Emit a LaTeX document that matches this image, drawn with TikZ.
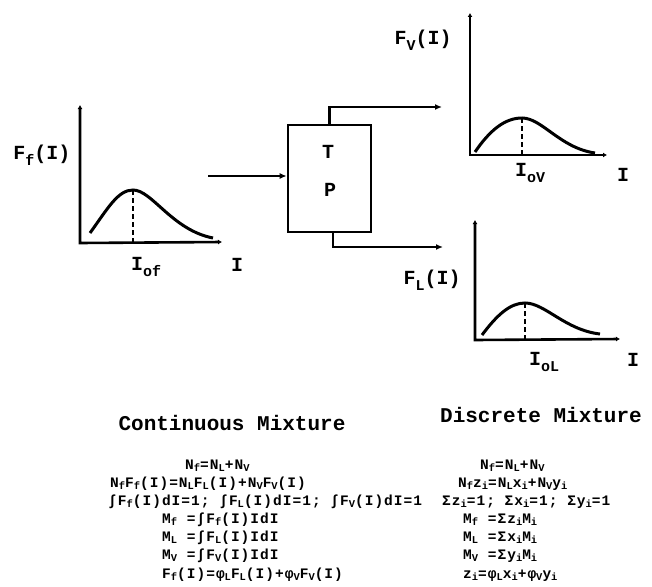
\documentclass[tikz,border=0pt]{standalone}
\usepackage{fontspec}
\setmonofont{Liberation Mono}
\newfontfamily\eqfont[LetterSpace=7]{Liberation Mono}
\usetikzlibrary{arrows.meta}
\newcommand\sbs[1]{\raisebox{-0.3em}{\scalebox{0.75}{#1}}}
\newcommand\esb[1]{\raisebox{-0.2em}{\scalebox{0.72}{#1}}}
\begin{document}
\begin{tikzpicture}[x=1pt,y=-1pt,
  every node/.style={inner sep=0pt},
  lw/.style={line width=2.6pt},
  axes/.style={line width=2.6pt,{Latex[length=4pt,width=5pt]}-{Latex[length=4pt,width=5pt]}},
  arr/.style={line width=2.6pt,-{Latex[length=7pt,width=6pt]}},
  crv/.style={line width=3pt},
  dsh/.style={line width=2.4pt,dash pattern=on 5pt off 3pt},
  lbl/.style={font=\fontsize{20}{24}\selectfont\ttfamily\bfseries},
  ttl/.style={font=\fontsize{21}{25}\selectfont\ttfamily\bfseries},
  eq/.style={font=\fontsize{14.5}{17}\selectfont\eqfont\bfseries,anchor=base west}]
\useasboundingbox (0,0) rectangle (652,586);

% ---- feed plot
\coordinate (y1) at (80,105);
\coordinate (o1) at (80,243);
\coordinate (x1) at (222,242);
\coordinate (pk1) at (133,190);
\coordinate (b1) at (133,243);
\draw[axes] (y1) -- (o1) -- (x1);
\draw[crv] (90,233) .. controls (108,208) and (118,190) .. (pk1) .. controls (152,190) and (172,230) .. (213,238);
\draw[dsh] (pk1) -- (b1);
\node[lbl] (lf) at (42,155) {F\sbs{f}(I)};
\node[lbl] (iof) at (146,267) {I\sbs{of}};
\node[lbl] (if) at (237,265) {I};

% ---- TP box
\node[draw,lw,minimum width=83pt,minimum height=107pt] (tp) at (329.5,178.5) {};
\node[lbl] (t) at (328,152) {T};
\node[lbl] (p) at (330,190) {P};
\coordinate (fin) at (208,176);
\coordinate (vout) at (442,107);
\coordinate (lout) at (443,247);
\draw[arr] (fin) -- (fin -| tp.west);
\draw[arr] (tp.north) |- (vout);
\draw[arr] ([xshift=3.5pt]tp.south) |- (lout);

% ---- vapour plot
\coordinate (y2) at (470,13);
\coordinate (o2) at (470,155);
\coordinate (x2) at (607,155);
\coordinate (pk2) at (522,118);
\coordinate (b2) at (522,155);
\draw[axes] (y2) -- (o2) -- (x2);
\draw[crv] (475,152) .. controls (490,130) and (505,118) .. (pk2) .. controls (542,118) and (560,148) .. (595,153);
\draw[dsh] (pk2) -- (b2);
\node[lbl] (lv) at (423,40) {F\sbs{V}(I)};
\node[lbl] (iov) at (530,173) {I\sbs{oV}};
\node[lbl] (iv) at (623,175) {I};

% ---- liquid plot
\coordinate (y3) at (475,220);
\coordinate (o3) at (475,340);
\coordinate (x3) at (620,339);
\coordinate (pk3) at (525,303);
\coordinate (b3) at (525,340);
\draw[axes] (y3) -- (o3) -- (x3);
\draw[crv] (482,335) .. controls (497,315) and (510,303) .. (pk3) .. controls (545,303) and (565,330) .. (600,334);
\draw[dsh] (pk3) -- (b3);
\node[lbl] (ll) at (432,280) {F\sbs{L}(I)};
\node[lbl] (iol) at (544,362) {I\sbs{oL}};
\node[lbl] (il) at (633,360) {I};

% ---- titles
\node[ttl] (tc) at (232,423) {Continuous Mixture};
\node[ttl] (td) at (541,415) {Discrete Mixture};

% ---- continuous equations
\node[eq] (c1) at (185,469) {N\esb{f}=N\esb{L}+N\esb{V}};
\node[eq] (c2) at (110,487) {N\esb{f}F\esb{f}(I)=N\esb{L}F\esb{L}(I)+N\esb{V}F\esb{V}(I)};
\node[eq] (c3) at (108,505) {∫F\esb{f}(I)dI=1; ∫F\esb{L}(I)dI=1; ∫F\esb{V}(I)dI=1};
\node[eq] (c4) at (162,523) {M\esb{f} =∫F\esb{f}(I)IdI};
\node[eq] (c5) at (162,541) {M\esb{L} =∫F\esb{L}(I)IdI};
\node[eq] (c6) at (162,559) {M\esb{V} =∫F\esb{V}(I)IdI};
\node[eq] (c7) at (162,578) {F\esb{f}(I)=φ\esb{L}F\esb{L}(I)+φ\esb{V}F\esb{V}(I)};

% ---- discrete equations
\node[eq] (d1) at (480,469) {N\esb{f}=N\esb{L}+N\esb{V}};
\node[eq] (d2) at (458,487) {N\esb{f}z\esb{i}=N\esb{L}x\esb{i}+N\esb{V}y\esb{i}};
\node[eq] (d3) at (442,505) {Σz\esb{i}=1; Σx\esb{i}=1; Σy\esb{i}=1};
\node[eq] (d4) at (463,523) {M\esb{f} =Σz\esb{i}M\esb{i}};
\node[eq] (d5) at (463,541) {M\esb{L} =Σx\esb{i}M\esb{i}};
\node[eq] (d6) at (463,559) {M\esb{V} =Σy\esb{i}M\esb{i}};
\node[eq] (d7) at (463,578) {z\esb{i}=φ\esb{L}x\esb{i}+φ\esb{V}y\esb{i}};
\end{tikzpicture}
\end{document}
